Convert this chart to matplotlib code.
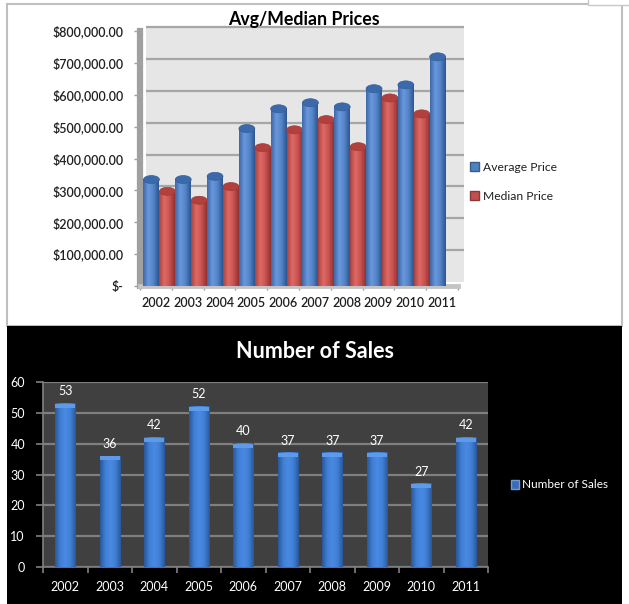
import numpy as np
import matplotlib
matplotlib.use("Agg")
import matplotlib.pyplot as plt
import matplotlib.transforms as mtransforms
from matplotlib.colors import LinearSegmentedColormap
from matplotlib.patches import Rectangle, Ellipse
from matplotlib.ticker import FuncFormatter, FixedLocator, NullFormatter

plt.rcParams['font.family'] = ['Lato', 'DejaVu Sans']

# data
years = ['2002', '2003', '2004', '2005', '2006', '2007', '2008', '2009', '2010', '2011']
avg_price = [334000, 334000, 344000, 494000, 556000, 575000, 562000, 619000, 631000, 719000]
median_price = [297000, 269000, 312000, 434000, 490000, 522000, 437000, 590000, 540000, np.nan]
num_sales = [53, 36, 42, 52, 40, 37, 37, 37, 27, 42]
price_ticks = [0, 100000, 200000, 300000, 400000, 500000, 600000, 700000, 800000]
sales_ticks = [0, 10, 20, 30, 40, 50, 60]

W, H = 629, 604
fig = plt.figure(figsize=(W / 100, H / 100), dpi=100)
fig.patch.set_facecolor('white')


def px_rect(l, t, r, b):
    return [l / W, 1 - b / H, (r - l) / W, (b - t) / H]


def px_trans():
    # figure pixel coords, origin top-left
    return mtransforms.Affine2D().scale(1 / W, -1 / H).translate(0, 1) + fig.transFigure


# panels
fig.patches.append(Rectangle((7, 4), 615, 322, transform=px_trans(), facecolor='white',
                             edgecolor='#bfbfbf', lw=1.5, zorder=-2))
fig.patches.append(Rectangle((7, 326), 615, 280, transform=px_trans(), facecolor='black',
                             edgecolor='none', zorder=-2))
fig.patches.append(Rectangle((588, -6), 50, 11, transform=px_trans(), facecolor='white',
                             edgecolor='#c8c8c8', lw=1, zorder=-2))

blue_cyl = LinearSegmentedColormap.from_list('bc', ['#3d68a8', '#6a98dc', '#5484c8', '#2d5590'])
red_cyl = LinearSegmentedColormap.from_list('rc', ['#a84340', '#de6a66', '#c9524f', '#8e3331'])
blue_col = LinearSegmentedColormap.from_list('bb', ['#2a5799', '#3f7fd4', '#4a8ae2', '#3f7fd4', '#2a5799'])
grad = np.linspace(0, 1, 64).reshape(1, -1)


def fill_gradient(ax, bar, cmap, z):
    x0, w, h = bar.get_x(), bar.get_width(), bar.get_height()
    ax.imshow(grad, extent=[x0, x0 + w, 0, h], aspect='auto', cmap=cmap,
              zorder=z, interpolation='bicubic')


# ---------------- top chart ----------------
ax1 = fig.add_axes(px_rect(140, 31, 458, 286))
ax1.set_facecolor('none')
x = np.arange(len(years))
ymax = 800000
off = mtransforms.ScaledTranslation(6 / 100, 4 / 100, fig.dpi_scale_trans)

ax1.add_patch(Rectangle((0, 0), 1, 1, transform=ax1.transAxes + off, facecolor='#e6e6e6',
                        edgecolor='none', zorder=0, clip_on=False))
ax1.hlines(price_ticks[1:], -0.5, 9.5, colors='#a6a6a6', lw=1.6,
           transform=ax1.transData + off, zorder=1, clip_on=False)

cap_h = ymax * 8 / 255
w = 0.5
bars_a = ax1.bar(x - 0.14, avg_price, w, color='none', zorder=3)
bars_m = ax1.bar(x + 0.36, median_price, w, color='none', zorder=3)
for i, b in enumerate(bars_a):
    fill_gradient(ax1, b, blue_cyl, 3 + i * 0.1)
    ax1.add_patch(Ellipse((b.get_x() + w / 2, b.get_height()), w, cap_h, facecolor='#3c69aa',
                          edgecolor='#34609d', lw=0.5, zorder=3 + i * 0.1 + 0.01))
for i, b in enumerate(bars_m):
    if np.isnan(b.get_height()):
        continue
    fill_gradient(ax1, b, red_cyl, 3 + i * 0.1 + 0.05)
    ax1.add_patch(Ellipse((b.get_x() + w / 2, b.get_height()), w, cap_h, facecolor='#b2403d',
                          edgecolor='#a33a37', lw=0.5, zorder=3 + i * 0.1 + 0.06))

ax1.set_xlim(-0.5, 9.5)
ax1.set_ylim(0, ymax)
ax1.yaxis.set_major_locator(FixedLocator(price_ticks))
ax1.yaxis.set_major_formatter(FuncFormatter(lambda v, p: '$-' if v == 0 else f'${v:,.2f}'))
ax1.xaxis.set_major_locator(FixedLocator(x))
ax1.set_xticklabels(years)
ax1.xaxis.set_minor_locator(FixedLocator(np.arange(-0.5, 10, 1)))
ax1.tick_params(axis='x', which='major', length=0, pad=8, labelsize=9, colors='#1f1f1f')
ax1.tick_params(axis='x', which='minor', length=3, color='#a0a0a0', width=1, direction='out')
ax1.tick_params(axis='y', length=4, color='#a0a0a0', width=1, pad=8, labelsize=9,
                labelcolor='#1f1f1f')
for s in ['top', 'right']:
    ax1.spines[s].set_visible(False)
ax1.spines['left'].set_color('#a0a0a0')
ax1.spines['left'].set_linewidth(4.5)
ax1.spines['bottom'].set_color('#c4c4c4')
ax1.spines['bottom'].set_linewidth(3.5)
for lab in ax1.get_yticklabels() + ax1.get_xticklabels():
    lab.set_fontweight('semibold')

fig.text(304 / W, 1 - 20 / H, 'Avg/Median Prices', ha='center', va='center', fontsize=12.8,
         fontweight='bold', color='black')

leg1 = fig.legend([Rectangle((0, 0), 1, 1, facecolor='#4f81bd', edgecolor='#385d8a'),
                   Rectangle((0, 0), 1, 1, facecolor='#c0504d', edgecolor='#8c3836')],
                  ['Average Price', 'Median Price'], loc='upper left',
                  bbox_to_anchor=(459 / W, 1 - 151 / H), frameon=False, fontsize=8.7,
                  handlelength=0.75, handleheight=0.75, handletextpad=0.3, labelspacing=1.5)
for t in leg1.get_texts():
    t.set_color('#1f1f1f')

# ---------------- bottom chart ----------------
ax2 = fig.add_axes(px_rect(43, 382, 488, 567))
ax2.set_facecolor('#404040')
bars_s = ax2.bar(x, num_sales, 0.45, color='none', zorder=3)
for b in bars_s:
    fill_gradient(ax2, b, blue_col, 3)
    ax2.add_patch(Rectangle((b.get_x(), b.get_height() - 1.3), b.get_width(), 1.3,
                            facecolor='#5f9ae8', edgecolor='none', zorder=3.2))
    ax2.annotate(str(int(b.get_height())), (b.get_x() + b.get_width() / 2, b.get_height()),
                 xytext=(0, 4.5), textcoords='offset points', ha='center', va='bottom',
                 color='white', fontsize=9, zorder=4)
ax2.set_xlim(-0.5, 9.5)
ax2.set_ylim(0, 60)
ax2.yaxis.set_major_locator(FixedLocator(sales_ticks))
ax2.grid(axis='y', color='#7f7f7f', lw=1.6, zorder=1)
ax2.set_axisbelow(True)
ax2.xaxis.set_major_locator(FixedLocator(x))
ax2.set_xticklabels(years)
ax2.xaxis.set_minor_locator(FixedLocator(np.arange(-0.5, 10, 1)))
ax2.xaxis.set_minor_formatter(NullFormatter())
ax2.tick_params(axis='x', which='major', length=0, pad=10, labelsize=9, labelcolor='white')
ax2.tick_params(axis='x', which='minor', length=4, color='#808080', width=1.2)
ax2.tick_params(axis='y', length=5, color='#808080', width=1.2, pad=8, labelsize=9,
                labelcolor='white')
for s in ['top', 'right']:
    ax2.spines[s].set_visible(False)
for s in ['left', 'bottom']:
    ax2.spines[s].set_color('#808080')
    ax2.spines[s].set_linewidth(1.2)

fig.text(315 / W, 1 - 352 / H, 'Number of Sales', ha='center', va='center', fontsize=15.5,
         fontweight='bold', color='white')

leg2 = fig.legend([Rectangle((0, 0), 1, 1, facecolor='#3a6cb4', edgecolor='#6e9ad6')],
                  ['Number of Sales'], loc='center left', bbox_to_anchor=(500 / W, 1 - 485 / H),
                  frameon=False, fontsize=8.5, handlelength=0.7, handleheight=0.7,
                  handletextpad=0.3)
for t in leg2.get_texts():
    t.set_color('white')

fig.savefig('out.png', dpi=100, facecolor='white')
